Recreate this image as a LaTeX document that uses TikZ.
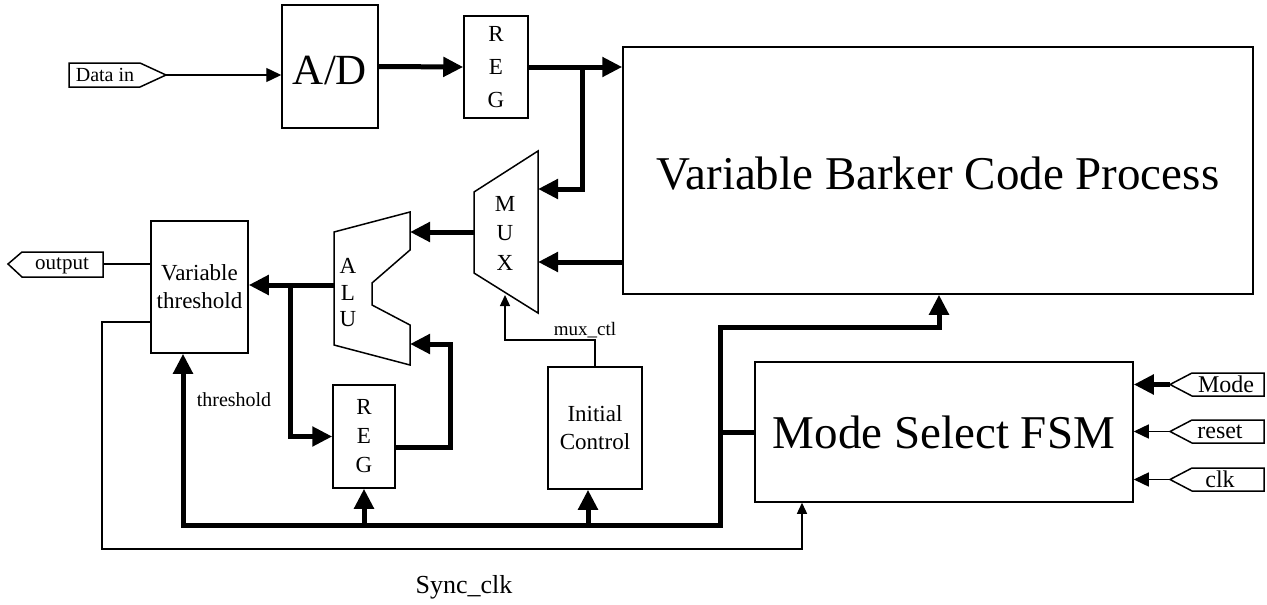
\documentclass[tikz,border=0pt]{standalone}
\usepackage{fontspec}
\setmainfont{Liberation Serif}
\usetikzlibrary{arrows.meta}
\begin{document}
\begin{tikzpicture}[x=1pt,y=-1pt,
  box/.style={draw,line width=1.5pt,inner sep=0pt,align=center},
  sig/.style={line width=1.4pt},
  bus/.style={line width=5pt},
  bigtip/.style={-{Triangle[length=20pt,width=19pt]}},
  midtip/.style={-{Triangle[length=15pt,width=14pt]}},
  smalltip/.style={-{Triangle[length=11pt,width=10pt]}},
  bigfont/.style={font=\fontsize{47}{50}\selectfont},
  lettfont/.style={align=center,font=\fontsize{23}{#1}\selectfont},
  tagfont/.style={font=\fontsize{20}{22}\selectfont},
  outline/.style={line width=1.5pt}
]
\useasboundingbox (0,0) rectangle (1267,605);

% ---------- boxes ----------
\node[box,minimum width=96pt,minimum height=123pt] (ad) at (330,66.5) {};
\node[font=\fontsize{43}{45}\selectfont] (adt) at (330,71) {A/D};
\node[box,minimum width=64pt,minimum height=102pt,lettfont=33] (reg1) at (496,67) {R\\E\\G};
\node[box,minimum width=630pt,minimum height=247pt] (vbcp) at (938,170.5) {};
\node[bigfont] (vbcpt) at (938,173.5) {Variable Barker Code Process};
\node[box,minimum width=97pt,minimum height=132pt,lettfont=28] (vt) at (199.5,287) {Variable\\threshold};
\node[box,minimum width=62pt,minimum height=103pt,lettfont=29] (reg2) at (364,436.5) {R\\E\\G};
\node[box,minimum width=94pt,minimum height=122pt,lettfont=28] (ic) at (595,428) {Initial\\Control};
\node[box,minimum width=378pt,minimum height=140pt,bigfont] (fsm) at (944,432) {Mode Select FSM};

% ---------- MUX ----------
\coordinate (muxTL) at (474,192);
\coordinate (muxTR) at (538,151);
\coordinate (muxBR) at (538,313);
\coordinate (muxBL) at (474,273);
\draw[outline] (muxTL) -- (muxTR) -- (muxBR) -- (muxBL) -- cycle;
\node[lettfont=29.5] (mux) at (505,233) {M\\U\\X};

% ---------- ALU ----------
\draw[outline] (334,232) -- (410,212) -- (410,250) -- (372,283) -- (372,305)
  -- (410,325) -- (410,365) -- (334,345) -- cycle;
\node[lettfont=26.5] (alu) at (348,293) {A\\L\\U};

% ---------- ports ----------
\coordinate (muxinA) at (538,189);
\coordinate (muxinB) at (538,262);
\coordinate (muxout) at (474,232);
\coordinate (muxctl) at (505,295);
\coordinate (aluinA) at (410,232);
\coordinate (aluinB) at (410,344);
\coordinate (aluout) at (334,285);
\coordinate (j1) at (582,67);
\coordinate (j2) at (290,285);
\coordinate (r2x) at (450,447);
\coordinate (bL) at (183,525);
\coordinate (bR) at (720,525);
\coordinate (bT) at (720,327);
\coordinate (vbin) at (939,327);
\coordinate (mc) at (505,340);
\coordinate (s1) at (102,322);
\coordinate (s2) at (102,549);
\coordinate (s3) at (802,549);

% ---------- I/O tags ----------
\coordinate (dintip) at (166,75);
\draw[outline] (69,63) -- (140,63) -- (dintip) -- (140,87) -- (69,87) -- cycle;
\node[tagfont] (din) at (105,75) {Data in};

\coordinate (outend) at (103,264);
\draw[outline] (8,264) -- (22,252) -- (103,252) -- (103,277) -- (22,277) -- cycle;
\node[font=\fontsize{21}{22}\selectfont] (out) at (62,265.5) {output};

\coordinate (modetip) at (1170,384.5);
\coordinate (resettip) at (1170,431.5);
\coordinate (clktip) at (1170,479.5);
\foreach \c in {384.5,431.5,479.5}{
  \draw[outline] (1170,\c) -- (1192,\c-11.5) -- (1264,\c-11.5) -- (1264,\c+11.5) -- (1192,\c+11.5) -- cycle;
}
\node[font=\fontsize{24}{26}\selectfont] (mode) at (1226,384.5) {Mode};
\node[font=\fontsize{24}{26}\selectfont] (reset) at (1220,431.5) {reset};
\node[font=\fontsize{24}{26}\selectfont] (clk) at (1220,479.5) {clk};

% ---------- connectors ----------
\draw[sig,midtip] (dintip) -- (ad.west |- dintip);
\draw[bus,bigtip] (ad.east) -- (reg1.west);
\draw[bus,bigtip] (reg1.east) -- (reg1.east -| vbcp.west);
\draw[bus,bigtip] (j1) |- (muxinA);
\draw[bus,bigtip] (vbcp.west |- muxinB) -- (muxinB);
\draw[bus,bigtip] (muxout) -- (aluinA);
\draw[bus,bigtip] (aluout) -- (aluout -| vt.east);
\draw[bus,bigtip] (j2) |- (reg2.west);
\draw[bus,bigtip] ([yshift=-10.5pt]reg2.east) -- (r2x) |- (aluinB);

\draw[bus,{Triangle[length=20pt,width=19pt]}-{Triangle[length=20pt,width=19pt]}]
  (vbin |- vbcp.south) -- (vbin) -- (bT) -- (bR) -- (bL) -- (bL |- vt.south);
\draw[bus,bigtip] (reg2.south |- bL) -- (reg2.south);
\draw[bus,bigtip] ([xshift=-7pt]ic.south |- bL) -- ([xshift=-7pt]ic.south);
\draw[bus] (fsm.west) -- (fsm.west -| bR);

\draw[sig,smalltip] (ic.north) |- (mc) -- (muxctl);
\node[font=\fontsize{19}{20}\selectfont,anchor=base] (mcl) at (585,335) {mux\_ctl};
\node[font=\fontsize{20}{22}\selectfont] (thl) at (234,400) {threshold};

\draw[sig] ([yshift=23pt]vt.west) -- (outend);
\draw[sig,smalltip] ([yshift=-35pt]vt.west) -- (s1) -- (s2) -- (s3) -- (s3 |- fsm.south);

\draw[bus,bigtip] (modetip) -- (modetip -| fsm.east);
\draw[sig,midtip] (resettip) -- (resettip -| fsm.east);
\draw[sig,midtip] (clktip) -- (clktip -| fsm.east);

\node[font=\fontsize{26}{28}\selectfont] (sc) at (464,587) {Sync\_clk};
\end{tikzpicture}
\end{document}
